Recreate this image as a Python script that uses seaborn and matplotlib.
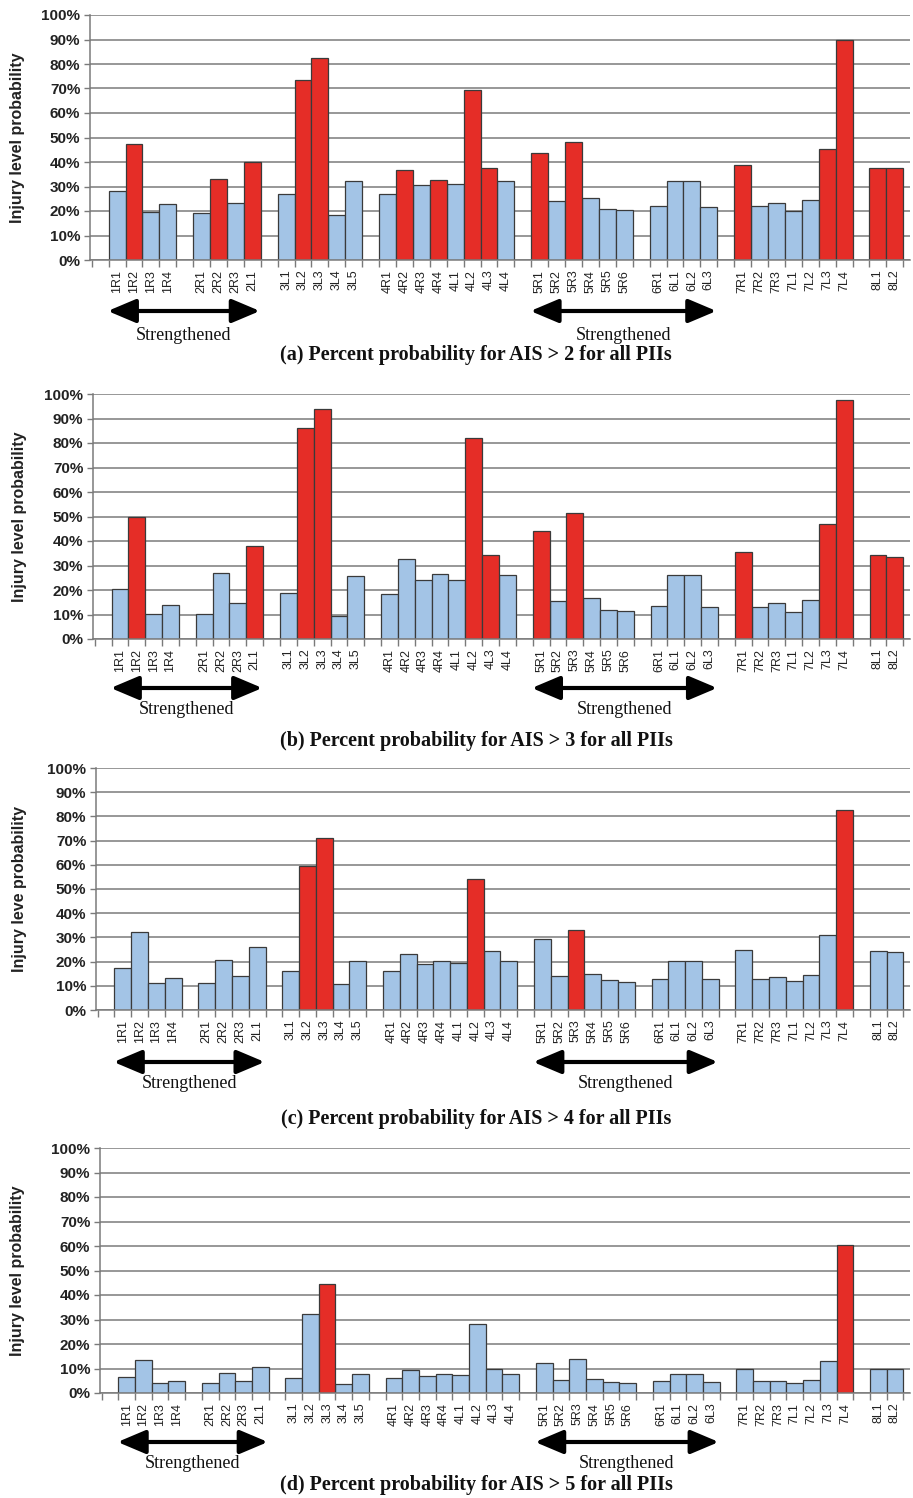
import numpy as np
import pandas as pd
import seaborn as sns
import matplotlib.pyplot as plt
from matplotlib.ticker import PercentFormatter

sns.set_theme(style='white')
plt.rcParams['font.family'] = ['Liberation Sans', 'DejaVu Sans']

# PII groups (an empty slot is left between groups)
groups = [['1R1', '1R2', '1R3', '1R4'],
          ['2R1', '2R2', '2R3', '2L1'],
          ['3L1', '3L2', '3L3', '3L4', '3L5'],
          ['4R1', '4R2', '4R3', '4R4', '4L1', '4L2', '4L3', '4L4'],
          ['5R1', '5R2', '5R3', '5R4', '5R5', '5R6'],
          ['6R1', '6L1', '6L2', '6L3'],
          ['7R1', '7R2', '7R3', '7L1', '7L2', '7L3', '7L4'],
          ['8L1', '8L2']]

# percent probability per PII
ais2 = [28.2, 47.5, 19.6, 22.7, 19.0, 33.0, 23.4, 40.0, 27.0, 73.3, 82.3, 18.4, 32.3,
        27.0, 36.6, 30.7, 32.8, 31.0, 69.2, 37.7, 32.3, 43.8, 24.1, 48.3, 25.2, 20.8, 20.3,
        22.0, 32.3, 32.3, 21.6, 38.8, 22.0, 23.4, 20.2, 24.6, 45.4, 89.9, 37.5, 37.4]
ais3 = [20.4, 50.0, 10.3, 14.0, 10.4, 27.1, 14.6, 37.8, 18.7, 86.1, 93.9, 9.5, 25.9,
        18.5, 32.8, 24.1, 26.6, 24.1, 81.9, 34.1, 26.0, 44.2, 15.4, 51.4, 16.6, 12.0, 11.4,
        13.3, 26.0, 26.0, 12.9, 35.6, 13.2, 14.6, 11.2, 16.0, 47.1, 97.7, 34.1, 33.6]
ais4 = [17.2, 32.4, 11.0, 13.2, 11.0, 20.7, 14.1, 26.1, 16.3, 59.3, 71.0, 10.6, 20.1,
        16.3, 23.3, 18.9, 20.4, 19.6, 54.1, 24.3, 20.1, 29.2, 14.2, 33.0, 14.9, 12.3, 11.7,
        13.0, 20.1, 20.1, 12.7, 24.8, 13.0, 13.7, 12.0, 14.5, 30.8, 82.5, 24.3, 24.0]
ais5 = [6.5, 13.6, 4.1, 4.9, 4.1, 8.0, 4.9, 10.6, 6.2, 32.3, 44.4, 3.8, 7.6,
        6.1, 9.2, 7.1, 7.6, 7.3, 28.1, 9.8, 7.7, 12.2, 5.4, 14.0, 5.7, 4.6, 4.1,
        5.0, 7.6, 7.6, 4.6, 9.8, 4.7, 5.0, 4.1, 5.4, 12.9, 60.4, 9.6, 9.6]

# PIIs drawn in red
red2 = ['1R2', '2R2', '2L1', '3L2', '3L3', '4R2', '4R4', '4L2', '4L3', '5R1', '5R3',
        '7R1', '7L3', '7L4', '8L1', '8L2']
red3 = ['1R2', '2L1', '3L2', '3L3', '4L2', '4L3', '5R1', '5R3', '7R1', '7L3', '7L4',
        '8L1', '8L2']
red4 = ['3L2', '3L3', '4L2', '5R3', '7L4']
red5 = ['3L3', '7L4']

captions = ['(a) Percent probability for AIS > 2 for all PIIs',
            '(b) Percent probability for AIS > 3 for all PIIs',
            '(c) Percent probability for AIS > 4 for all PIIs',
            '(d) Percent probability for AIS > 5 for all PIIs']
ylabels = ['Injury level probability', 'Injury level probability',
           'Injury leve probability', 'Injury level probability']
strengthened = [['1R1', '2L1'], ['5R1', '6L3']]

BLUE = '#a3c4e6'
RED = '#e52d27'
W, H = 913, 1498

labels, pos = [], []
p = 0
for g in groups:
    for lab in g:
        labels.append(lab)
        pos.append(p)
        p += 1
    p += 1
pos_of = dict(zip(labels, pos))

# panel frames in pixels: left, top (100%), bottom (0%)
frames = [(90, 15, 260), (93, 394, 639), (96, 768, 1010), (100, 1148, 1393)]
arrow_y = [311, 688, 1062, 1442]
strength_y = [335, 710, 1084, 1464]
caption_y = [355, 741, 1119, 1485]
label_x = [25, 27, 27, 25]

fig = plt.figure(figsize=(W / 100, H / 100), dpi=100)
fig.patch.set_facecolor('white')

panels = [(ais2, red2), (ais3, red3), (ais4, red4), (ais5, red5)]
for i, (vals, reds) in enumerate(panels):
    left, top, bottom = frames[i]
    ax = fig.add_axes([left / W, 1 - bottom / H, (910 - left) / W, (bottom - top) / H])
    df = pd.DataFrame({'pos': pos, 'label': labels,
                       'prob': np.array(vals) / 100,
                       'level': ['high' if l in reds else 'low' for l in labels]})
    sns.barplot(data=df, x='pos', y='prob', hue='level', native_scale=True,
                palette={'high': RED, 'low': BLUE}, width=1, dodge=False, saturation=1,
                edgecolor='#3a3a3a', linewidth=0.9, legend=False, ax=ax)
    ax.set_xlim(-1.6, 46.9)
    ax.set_ylim(0, 1.0)
    ax.set_yticks(np.arange(0, 1.01, 0.1))
    ax.yaxis.set_major_formatter(PercentFormatter(1.0, decimals=0))
    ax.yaxis.grid(True, color='#7a7a7a', lw=1.1)
    ax.set_axisbelow(True)
    ax.set_xticks(pos)
    ax.set_xticklabels(labels, rotation=90, fontsize=9, color='#222222')
    ax.set_xticks(np.arange(-1.5, 47, 1), minor=True)
    ax.tick_params(axis='x', which='major', length=0, pad=7)
    ax.tick_params(axis='x', which='minor', length=5, color='#7a7a7a', width=1, bottom=True)
    ax.tick_params(axis='y', length=4, color='#7a7a7a', width=1, pad=3, left=True)
    for t in ax.get_yticklabels():
        t.set_fontweight('bold')
        t.set_fontsize(11)
        t.set_color('#222222')
    for s in ['top', 'right']:
        ax.spines[s].set_visible(False)
    for s in ['left', 'bottom']:
        ax.spines[s].set_color('#7a7a7a')
        ax.spines[s].set_linewidth(1.1)
    ax.set_xlabel('')
    ax.set_ylabel(ylabels[i], fontsize=11.5, fontweight='bold', color='#222222')
    ax.yaxis.set_label_coords((label_x[i] - left) / (910 - left), 0.5)

    for a, b in strengthened:
        x0 = pos_of[a] - 0.55
        x1 = pos_of[b] + 0.45
        ax.annotate('', xy=(x0, H - arrow_y[i]), xytext=(x1, H - arrow_y[i]),
                    xycoords=('data', 'figure pixels'), textcoords=('data', 'figure pixels'),
                    arrowprops=dict(arrowstyle='<|-|>,head_length=0.9,head_width=0.38',
                                    lw=3, color='black', mutation_scale=19,
                                    shrinkA=0, shrinkB=0),
                    annotation_clip=False)
        ax.annotate('Strengthened', xy=((x0 + x1) / 2, H - strength_y[i]),
                    xycoords=('data', 'figure pixels'), ha='center', va='center',
                    fontsize=13, family='Liberation Serif', color='#111111',
                    annotation_clip=False)
    fig.text(476 / W, 1 - caption_y[i] / H, captions[i], ha='center', va='center',
             fontsize=14.5, fontweight='bold', family='Liberation Serif', color='#111111')

fig.savefig('out.png', dpi=100, facecolor='white')
